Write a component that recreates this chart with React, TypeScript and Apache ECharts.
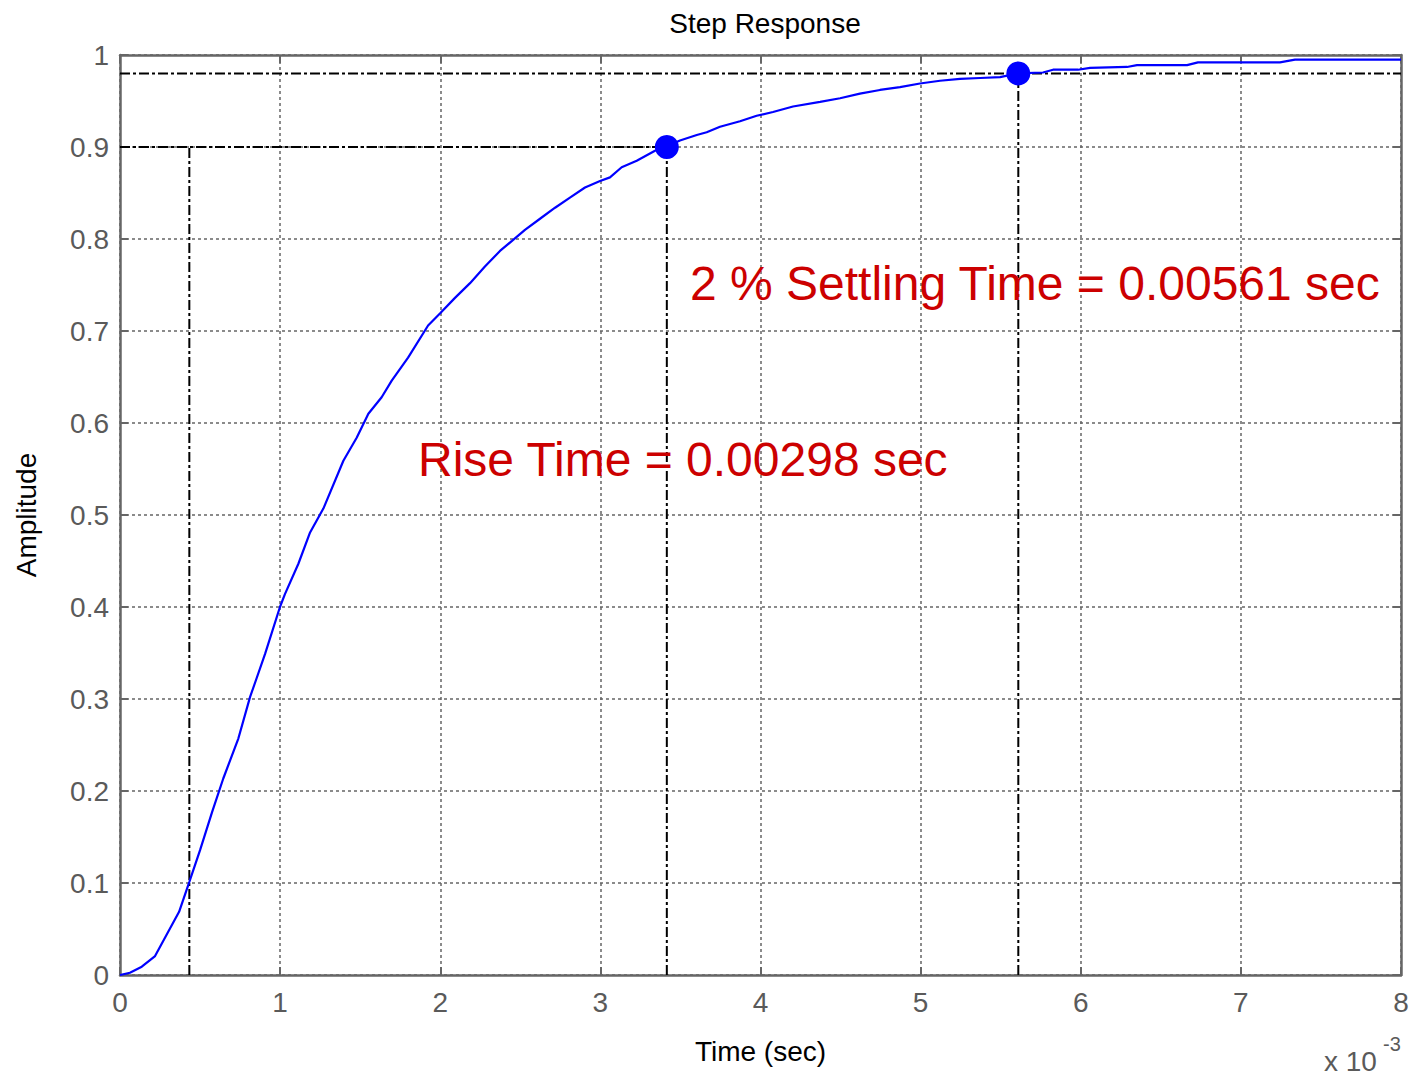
import React, { useEffect, useRef } from "react";
import * as echarts from "echarts";

// Step response samples (time in ms, amplitude)
const timeMs = [
  0, 0.062, 0.136, 0.219, 0.369, 0.433, 0.5, 0.575, 0.645, 0.739, 0.812, 0.906, 0.999,
  1.03, 1.114, 1.187, 1.27, 1.395, 1.478, 1.551, 1.634, 1.697, 1.799, 1.924, 1.998,
  2.092, 2.186, 2.279, 2.373, 2.448, 2.529, 2.623, 2.717, 2.81, 2.904, 2.998, 3.06,
  3.133, 3.227, 3.341, 3.422, 3.497, 3.602, 3.664, 3.747, 3.872, 3.976, 4.078, 4.203,
  4.372, 4.497, 4.621, 4.746, 4.871, 4.996, 5.121, 5.246, 5.371, 5.496, 5.608, 5.764,
  5.827, 5.983, 6.058, 6.289, 6.351, 6.664, 6.732, 7.244, 7.338, 8.0,
];
const amplitude = [
  0, 0.0025, 0.009, 0.0206, 0.0687, 0.1013, 0.1357, 0.177, 0.2136, 0.257, 0.302, 0.349, 0.4,
  0.414, 0.447, 0.481, 0.507, 0.559, 0.584, 0.61, 0.628, 0.646, 0.671, 0.706, 0.719,
  0.736, 0.752, 0.77, 0.787, 0.798, 0.81, 0.822, 0.834, 0.845, 0.856, 0.863, 0.867,
  0.878, 0.885, 0.896, 0.901, 0.907, 0.913, 0.916, 0.922, 0.928, 0.934, 0.938, 0.944,
  0.949, 0.953, 0.958, 0.962, 0.965, 0.969, 0.972, 0.974, 0.975, 0.976, 0.98, 0.981,
  0.984, 0.984, 0.986, 0.987, 0.989, 0.989, 0.992, 0.992, 0.995, 0.995,
];

// Characteristic points
const riseStart = [0.433, 0.1];
const riseEnd = [3.415, 0.9];
const settle = [5.61, 0.98];

const xTicks = { min: 0, max: 8, interval: 1 };
const yTicks = { min: 0, max: 1, interval: 0.1 };

const riseLabel = "Rise Time = 0.00298 sec";
const settleLabel = "2 % Settling Time = 0.00561 sec";

const FONT = "'Liberation Sans', Arial, Helvetica, sans-serif";
const GREY = "#666666";
const LABEL_GREY = "#5a5a5a";
const DASHDOT = [10, 3, 3, 3];

export default function App() {
  const ref = useRef<HTMLDivElement>(null);

  useEffect(() => {
    if (!ref.current) return;
    const chart = echarts.init(ref.current, undefined, { renderer: "svg" });

    const refLine = (pts: number[][]) => ({
      type: "line",
      data: pts,
      symbol: "none",
      silent: true,
      lineStyle: { color: "#000", width: 2, type: DASHDOT },
      z: 3,
    });

    const gridLine = { show: true, lineStyle: { color: GREY, width: 1.5, type: [3, 3] } };
    const border = { show: true, onZero: false, lineStyle: { color: GREY, width: 2.5 } };
    const ticks = { show: true, inside: true, length: 8, lineStyle: { color: GREY, width: 2 } };

    chart.setOption({
      animation: false,
      backgroundColor: "#fff",
      textStyle: { fontFamily: FONT },
      title: {
        text: "Step Response",
        left: 760,
        top: 4,
        textAlign: "center",
        textStyle: { fontFamily: FONT, fontSize: 28, fontWeight: "normal", color: "#000" },
      },
      grid: { left: 120, right: 11, top: 55, bottom: 101, containLabel: false },
      xAxis: [
        {
          type: "value",
          position: "bottom",
          ...xTicks,
          name: "Time (sec)",
          nameLocation: "middle",
          nameGap: 62,
          nameTextStyle: { fontFamily: FONT, fontSize: 28, color: "#000" },
          axisLine: border,
          axisTick: ticks,
          axisLabel: { color: LABEL_GREY, fontSize: 28, fontFamily: FONT, margin: 13 },
          splitLine: gridLine,
        },
        {
          type: "value",
          position: "top",
          ...xTicks,
          axisLine: border,
          axisTick: ticks,
          axisLabel: { show: false },
          splitLine: { show: false },
        },
      ],
      yAxis: [
        {
          type: "value",
          position: "left",
          ...yTicks,
          name: "Amplitude",
          nameLocation: "middle",
          nameGap: 80,
          nameRotate: 90,
          nameTextStyle: { fontFamily: FONT, fontSize: 28, color: "#000" },
          axisLine: border,
          axisTick: ticks,
          axisLabel: { color: LABEL_GREY, fontSize: 28, fontFamily: FONT, margin: 11 },
          splitLine: gridLine,
        },
        {
          type: "value",
          position: "right",
          ...yTicks,
          axisLine: border,
          axisTick: ticks,
          axisLabel: { show: false },
          splitLine: { show: false },
        },
      ],
      series: [
        refLine([[xTicks.min, riseEnd[1]], riseEnd]),
        refLine([[riseStart[0], yTicks.min], [riseStart[0], riseEnd[1]]]),
        refLine([[riseEnd[0], yTicks.min], riseEnd]),
        refLine([[xTicks.min, settle[1]], [xTicks.max, settle[1]]]),
        refLine([[settle[0], yTicks.min], settle]),
        {
          type: "line",
          data: timeMs.map((t, i) => [t, amplitude[i]]),
          symbol: "none",
          lineStyle: { color: "#0000ff", width: 2.2 },
          z: 4,
        },
        {
          type: "scatter",
          data: [riseEnd, settle],
          symbol: "circle",
          symbolSize: 24,
          itemStyle: { color: "#0000ff", opacity: 1 },
          z: 5,
        },
      ],
      graphic: [
        {
          type: "text",
          left: 418,
          top: 435,
          style: { text: riseLabel, fill: "#cc0000", font: `48px ${FONT}` },
          z: 10,
        },
        {
          type: "text",
          left: 690,
          top: 259,
          style: { text: settleLabel, fill: "#cc0000", font: `48px ${FONT}` },
          z: 10,
        },
        {
          type: "text",
          left: 1324,
          top: 1047,
          style: { text: "x 10", fill: LABEL_GREY, font: `28px ${FONT}` },
        },
        {
          type: "text",
          left: 1383,
          top: 1034,
          style: { text: "-3", fill: LABEL_GREY, font: `20px ${FONT}` },
        },
      ],
    });

    return () => chart.dispose();
  }, []);

  return (
    <div
      ref={ref}
      style={{ position: "fixed", left: 0, top: 0, width: 1412, height: 1076 }}
    />
  );
}
